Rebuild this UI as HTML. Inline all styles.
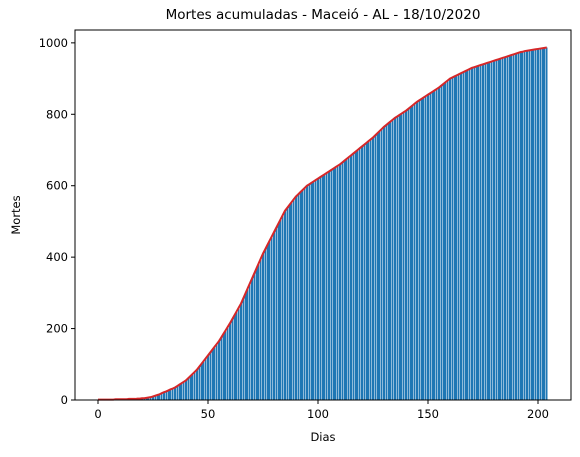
<!DOCTYPE html>
<html><head><meta charset="utf-8"><style>
body{margin:0;background:#fff;font-family:"DejaVu Sans","Liberation Sans",sans-serif}
</style></head><body>
<svg id="chart" width="580" height="453" xmlns="http://www.w3.org/2000/svg">
<rect width="580" height="453" fill="#fff"/>
<g id="bars" shape-rendering="crispEdges"></g>
<path id="line" fill="none" stroke="#d62728" stroke-width="2"/>
<rect x="75" y="30" width="496" height="370" fill="none" stroke="#000" stroke-width="1"/>
<g id="xt"></g>
<g id="yt"></g>
<text x="323" y="19" text-anchor="middle" font-size="13.5">Mortes acumuladas - Maceió - AL - 18/10/2020</text>
<text x="323" y="441" text-anchor="middle" font-size="11.5">Dias</text>
<text x="20" y="215" text-anchor="middle" font-size="11.5" transform="rotate(-90 20 215)">Mortes</text>
</svg>
<script>
const deaths=[1,1,1,1,1,1,1,1,2,2,2,2,2,2,3,3,3,3,4,4,5,5,6,7,8,10,12,14,16,19,22,24,27,30,32,35,39,43,47,51,55,61,67,73,79,85,93,101,109,117,125,133,141,149,157,165,175,185,195,205,215,226,237,248,259,270,284,298,312,326,340,354,368,382,396,410,422,434,446,458,470,482,494,506,518,530,538,546,554,562,570,576,582,588,594,600,604,608,612,616,620,624,628,632,636,640,644,648,652,656,660,665,670,675,680,685,690,695,700,705,710,715,720,725,730,735,741,747,753,759,765,770,775,780,785,790,794,798,802,806,810,815,820,825,830,835,839,843,847,851,855,859,863,867,871,875,880,885,890,895,900,903,906,909,912,915,918,921,924,927,930,932,934,936,938,940,942,944,946,948,950,952,954,956,958,960,962,964,966,968,970,972,974,975,977,978,979,980,981,982,983,984,985,986,987];
const xTicks=[0,50,100,150,200];
const yTicks=[0,200,400,600,800,1000];
const X0=75,X1=571,Y0=400,Y1=30,xmin=-10.45,xmax=215,ymin=0,ymax=1036;
const xs=v=>X0+(v-xmin)/(xmax-xmin)*(X1-X0);
const ys=v=>Y0-(v-ymin)/(ymax-ymin)*(Y0-Y1);
const NS="http://www.w3.org/2000/svg";
const bars=document.getElementById('bars');
const bw=(xs(1)-xs(0))*0.8;
deaths.forEach((d,i)=>{
 const r=document.createElementNS(NS,'rect');
 r.setAttribute('x',xs(i)-bw/2);r.setAttribute('y',ys(d));
 r.setAttribute('width',bw);r.setAttribute('height',Y0-ys(d));
 r.setAttribute('fill','#1f77b4');
 
 
 bars.appendChild(r);
});
document.getElementById('line').setAttribute('d',deaths.map((d,i)=>(i?'L':'M')+xs(i).toFixed(2)+' '+ys(d).toFixed(2)).join(''));
const xt=document.getElementById('xt');
xTicks.forEach(t=>{
 const x=xs(t);
 const l=document.createElementNS(NS,'line');
 l.setAttribute('x1',x);l.setAttribute('x2',x);l.setAttribute('y1',400);l.setAttribute('y2',404);l.setAttribute('stroke','#000');
 
 
 xt.appendChild(l);
 const s=document.createElementNS(NS,'text');
 s.setAttribute('x',x);s.setAttribute('y',418);s.setAttribute('text-anchor','middle');s.setAttribute('font-size','11.5');
 s.textContent=t;
 
 
 xt.appendChild(s);
});
const yt=document.getElementById('yt');
yTicks.forEach(t=>{
 const y=ys(t);
 const l=document.createElementNS(NS,'line');
 l.setAttribute('x1',71);l.setAttribute('x2',75);l.setAttribute('y1',y);l.setAttribute('y2',y);l.setAttribute('stroke','#000');
 
 
 yt.appendChild(l);
 const s=document.createElementNS(NS,'text');
 s.setAttribute('x',68);s.setAttribute('y',y+4);s.setAttribute('text-anchor','end');s.setAttribute('font-size','11.5');
 s.textContent=t;
 
 
 yt.appendChild(s);
});
</script>
</body></html>
